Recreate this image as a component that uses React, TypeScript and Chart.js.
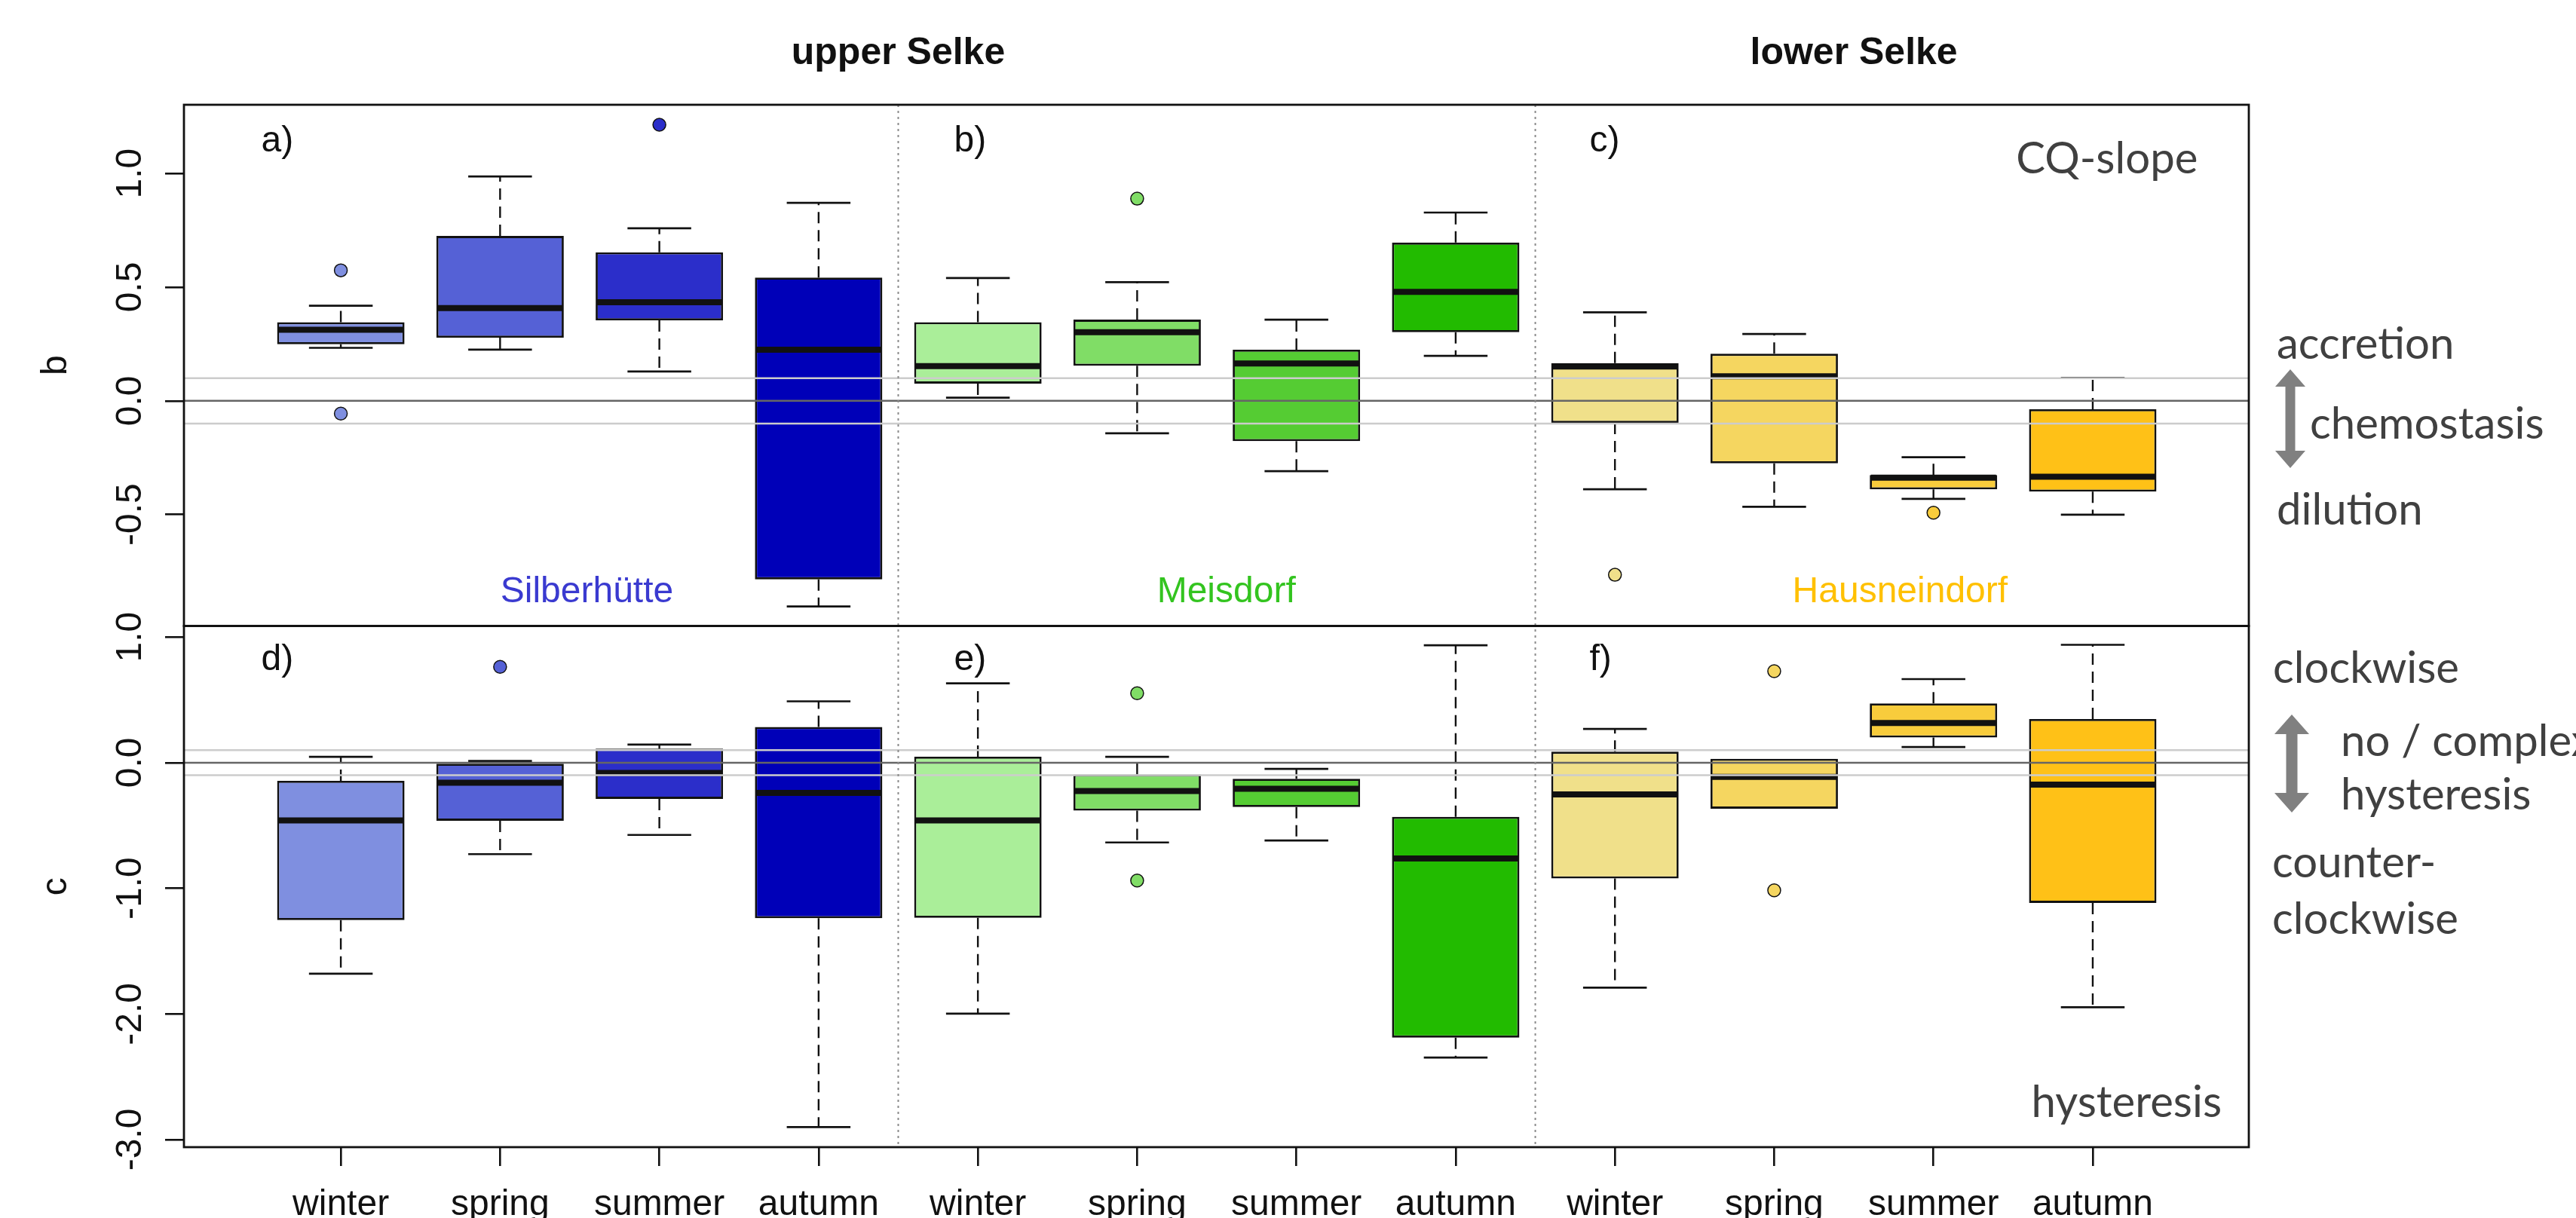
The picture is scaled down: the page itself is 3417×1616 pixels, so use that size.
import React, { useEffect, useRef } from "react";
import { Chart, registerables } from "chart.js";

Chart.register(...registerables);

// ---- categories ----
const SEASONS = ["winter", "spring", "summer", "autumn"];
const SITES = ["Silberhütte", "Meisdorf", "Hausneindorf"];
const POSITIONS = [1, 2, 3, 4, 5, 6, 7, 8, 9, 10, 11, 12];
const SEASON_LABELS = SITES.flatMap(() => SEASONS);

// ---- fill colours (one per box, site by site) ----
const BOX_COLORS = [
  "#7F8FE0", "#5561D6", "#2B2ECA", "#0000B8",
  "#AAEE99", "#80DD66", "#55CC33", "#22BB00",
  "#F0E08A", "#F5D660", "#F8CC3C", "#FFC117",
];
const SITE_COLORS = ["#3A3AD0", "#33C41F", "#FFC000"];

// ---- CQ-slope b: box statistics per site/season ----
const B_LOW = [0.233, 0.225, 0.129, -0.904, 0.014, -0.143, -0.309, 0.198, -0.389, -0.466, -0.431, -0.501];
const B_Q1 = [0.249, 0.278, 0.354, -0.785, 0.076, 0.154, -0.177, 0.302, -0.097, -0.275, -0.389, -0.399];
const B_MEDIAN = [0.313, 0.408, 0.434, 0.225, 0.153, 0.302, 0.164, 0.479, 0.151, 0.108, -0.338, -0.334];
const B_Q3 = [0.346, 0.725, 0.653, 0.542, 0.346, 0.357, 0.225, 0.696, 0.166, 0.207, -0.326, -0.037];
const B_HIGH = [0.418, 0.987, 0.759, 0.871, 0.540, 0.522, 0.357, 0.828, 0.389, 0.294, -0.248, 0.101];
const B_OUTLIERS = [[0.574, -0.056], [], [1.214], [], [], [0.889], [], [], [-0.765], [], [-0.492], []];

// ---- hysteresis index c: box statistics per site/season ----
const C_LOW = [-1.679, -0.728, -0.575, -2.9, -1.998, -0.635, -0.619, -2.347, -1.791, -0.366, 0.125, -1.947];
const C_Q1 = [-1.253, -0.462, -0.288, -1.238, -1.235, -0.382, -0.353, -2.188, -0.922, -0.366, 0.2, -1.116];
const C_MEDIAN = [-0.46, -0.16, -0.082, -0.241, -0.46, -0.225, -0.207, -0.763, -0.253, -0.113, 0.315, -0.175];
const C_Q3 = [-0.144, 0.0, 0.112, 0.284, 0.047, -0.094, -0.128, -0.431, 0.087, 0.031, 0.472, 0.347];
const C_HIGH = [0.047, 0.013, 0.144, 0.488, 0.631, 0.047, -0.05, 0.934, 0.268, 0.031, 0.665, 0.938];
const C_OUTLIERS = [[], [0.763], [], [], [], [0.553, -0.938], [], [], [], [0.728, -1.016], [], []];

// ---- axes ----
const B_TICKS = [-0.5, 0, 0.5, 1];
const C_TICKS = [-3, -2, -1, 0, 1];
const B_RANGE = [-0.99, 1.302];
const C_RANGE = [-3.06, 1.088];
const X_RANGE = [0.015, 12.98];
const BAND_LINES = [-0.1, 0.1];
const SEPARATORS = [4.5, 8.5];

// ---- annotations ----
const REACH_TITLES = ["upper Selke", "lower Selke"];
const REACH_CENTERS = [4.5, 10.5];
const LETTERS_TOP = ["a)", "b)", "c)"];
const LETTERS_BOTTOM = ["d)", "e)", "f)"];
const LETTER_X = [0.5, 4.85, 8.84];
const SITE_LABEL_X = [2.545, 6.56, 10.79];

const R_FONT = '"Liberation Sans", Arial, sans-serif';
const NOTE_FONT = 'Lato, "Open Sans", sans-serif';
const NOTE_COLOR = "#404040";
const INK = "#111111";

const outlierPoints = (sets: number[][]) =>
  sets.flatMap((vals, i) => vals.map((v) => ({ x: POSITIONS[i], y: v })));
const outlierColors = (sets: number[][]) =>
  sets.flatMap((vals, i) => vals.map(() => BOX_COLORS[i]));

function drawBoxParts(
  ctx: CanvasRenderingContext2D,
  chart: any,
  datasetIndex: number,
  yScale: any,
  low: number[],
  q1: number[],
  med: number[],
  q3: number[],
  high: number[]
) {
  const meta = chart.getDatasetMeta(datasetIndex);
  meta.data.forEach((el: any, i: number) => {
    const { x, width } = el.getProps(["x", "width"], true);
    const half = width / 2;
    const pLow = yScale.getPixelForValue(low[i]);
    const pQ1 = yScale.getPixelForValue(q1[i]);
    const pMed = yScale.getPixelForValue(med[i]);
    const pQ3 = yScale.getPixelForValue(q3[i]);
    const pHigh = yScale.getPixelForValue(high[i]);
    ctx.save();
    ctx.strokeStyle = INK;
    ctx.lineWidth = 2.4;
    ctx.setLineDash([15, 9]);
    ctx.beginPath();
    if (high[i] > q3[i]) {
      ctx.moveTo(x, pQ3);
      ctx.lineTo(x, pHigh);
    }
    if (low[i] < q1[i]) {
      ctx.moveTo(x, pQ1);
      ctx.lineTo(x, pLow);
    }
    ctx.stroke();
    ctx.setLineDash([]);
    ctx.lineWidth = 2.7;
    ctx.beginPath();
    if (high[i] > q3[i]) {
      ctx.moveTo(x - half / 2, pHigh);
      ctx.lineTo(x + half / 2, pHigh);
    }
    if (low[i] < q1[i]) {
      ctx.moveTo(x - half / 2, pLow);
      ctx.lineTo(x + half / 2, pLow);
    }
    ctx.stroke();
    ctx.lineWidth = 8;
    ctx.beginPath();
    ctx.moveTo(x - half + 1.5, pMed);
    ctx.lineTo(x + half - 1.5, pMed);
    ctx.stroke();
    ctx.restore();
  });
}

function drawDoubleArrow(
  ctx: CanvasRenderingContext2D,
  x: number,
  top: number,
  bottom: number,
  shaft: number,
  headW: number,
  headL: number
) {
  ctx.save();
  ctx.fillStyle = "#808080";
  ctx.beginPath();
  ctx.moveTo(x, top);
  ctx.lineTo(x + headW / 2, top + headL);
  ctx.lineTo(x + shaft / 2, top + headL);
  ctx.lineTo(x + shaft / 2, bottom - headL);
  ctx.lineTo(x + headW / 2, bottom - headL);
  ctx.lineTo(x, bottom);
  ctx.lineTo(x - headW / 2, bottom - headL);
  ctx.lineTo(x - shaft / 2, bottom - headL);
  ctx.lineTo(x - shaft / 2, top + headL);
  ctx.lineTo(x - headW / 2, top + headL);
  ctx.closePath();
  ctx.fill();
  ctx.restore();
}

const boxplotPlugin = {
  id: "boxplotParts",
  afterDatasetsDraw(chart: any) {
    const ctx: CanvasRenderingContext2D = chart.ctx;
    const area = chart.chartArea;
    const xs = chart.scales.x;
    const yT = chart.scales.yTop;
    const yB = chart.scales.yBot;

    drawBoxParts(ctx, chart, 0, yT, B_LOW, B_Q1, B_MEDIAN, B_Q3, B_HIGH);
    drawBoxParts(ctx, chart, 1, yB, C_LOW, C_Q1, C_MEDIAN, C_Q3, C_HIGH);

    ctx.save();
    for (const ys of [yT, yB]) {
      ctx.lineWidth = 2.5;
      ctx.strokeStyle = "#CCCCCC";
      for (const v of BAND_LINES) {
        const py = ys.getPixelForValue(v);
        ctx.beginPath();
        ctx.moveTo(area.left, py);
        ctx.lineTo(area.right, py);
        ctx.stroke();
      }
      ctx.strokeStyle = "#666666";
      const p0 = ys.getPixelForValue(0);
      ctx.beginPath();
      ctx.moveTo(area.left, p0);
      ctx.lineTo(area.right, p0);
      ctx.stroke();
    }
    ctx.strokeStyle = "#8A8A8A";
    ctx.lineWidth = 2;
    ctx.setLineDash([3, 5]);
    for (const v of SEPARATORS) {
      const px = xs.getPixelForValue(v);
      ctx.beginPath();
      ctx.moveTo(px, area.top);
      ctx.lineTo(px, area.bottom);
      ctx.stroke();
    }
    ctx.setLineDash([]);
    ctx.strokeStyle = INK;
    ctx.lineWidth = 2.8;
    for (const ys of [yT, yB]) {
      ctx.strokeRect(area.left, ys.top, area.right - area.left, ys.bottom - ys.top);
    }
    ctx.restore();
  },
  afterDraw(chart: any) {
    const ctx: CanvasRenderingContext2D = chart.ctx;
    const area = chart.chartArea;
    const xs = chart.scales.x;
    const yT = chart.scales.yTop;
    const yB = chart.scales.yBot;

    ctx.save();
    ctx.fillStyle = INK;
    ctx.font = `48px ${R_FONT}`;

    // y tick labels, parallel to the axis
    const tickSets: [any, number[]][] = [[yT, B_TICKS], [yB, C_TICKS]];
    for (const [ys, ticks] of tickSets) {
      for (const v of ticks) {
        ctx.save();
        ctx.translate(area.left - 57, ys.getPixelForValue(v));
        ctx.rotate(-Math.PI / 2);
        ctx.textAlign = "center";
        ctx.textBaseline = "alphabetic";
        ctx.fillText(v.toFixed(1), 0, 0);
        ctx.restore();
      }
    }
    // y axis titles
    const titles: [any, string][] = [[yT, "b"], [yB, "c"]];
    for (const [ys, t] of titles) {
      ctx.save();
      ctx.translate(area.left - 156, (ys.top + ys.bottom) / 2);
      ctx.rotate(-Math.PI / 2);
      ctx.textAlign = "center";
      ctx.fillText(t, 0, 0);
      ctx.restore();
    }
    // x tick labels
    ctx.textAlign = "center";
    ctx.textBaseline = "alphabetic";
    POSITIONS.forEach((p, i) => {
      ctx.fillText(SEASON_LABELS[i], xs.getPixelForValue(p), area.bottom + 90);
    });
    // reach titles
    ctx.font = `bold 50px ${R_FONT}`;
    REACH_TITLES.forEach((t, i) => {
      ctx.fillText(t, xs.getPixelForValue(REACH_CENTERS[i]), area.top - 54);
    });
    // panel letters
    ctx.font = `48px ${R_FONT}`;
    ctx.textAlign = "left";
    LETTERS_TOP.forEach((t, i) => {
      ctx.fillText(t, xs.getPixelForValue(LETTER_X[i]), yT.getPixelForValue(1.095));
    });
    LETTERS_BOTTOM.forEach((t, i) => {
      ctx.fillText(t, xs.getPixelForValue(LETTER_X[i]), yB.getPixelForValue(0.735));
    });
    // site names
    ctx.textAlign = "center";
    SITES.forEach((s, i) => {
      ctx.fillStyle = SITE_COLORS[i];
      ctx.fillText(s, xs.getPixelForValue(SITE_LABEL_X[i]), yT.getPixelForValue(-0.885));
    });

    // explanatory notes
    ctx.font = `100px ${NOTE_FONT}`;
    const noteSize = (100 * 247) / ctx.measureText("clockwise").width;
    ctx.font = `${noteSize.toFixed(1)}px ${NOTE_FONT}`;
    ctx.fillStyle = NOTE_COLOR;
    ctx.textAlign = "right";
    ctx.fillText("CQ-slope", xs.getPixelForValue(12.66), yT.getPixelForValue(1.0));
    ctx.fillText("hysteresis", xs.getPixelForValue(12.81), yB.getPixelForValue(-2.82));
    ctx.textAlign = "left";
    const r = area.right;
    ctx.fillText("accretion", r + 37, 476);
    ctx.fillText("chemostasis", r + 81, 582);
    ctx.fillText("dilution", r + 37, 696);
    ctx.fillText("clockwise", r + 32, 906);
    ctx.fillText("no / complex", r + 122, 1003);
    ctx.fillText("hysteresis", r + 122, 1074);
    ctx.fillText("counter-", r + 31, 1164);
    ctx.fillText("clockwise", r + 31, 1239);
    ctx.restore();

    drawDoubleArrow(ctx, r + 55, 490, 621, 13, 40, 23);
    drawDoubleArrow(ctx, r + 57, 948, 1078, 15, 46, 26);
  },
};

export default function App() {
  const canvasRef = useRef<HTMLCanvasElement | null>(null);

  useEffect(() => {
    const canvas = canvasRef.current;
    if (!canvas) return;
    const tickGrid = {
      drawOnChartArea: false,
      drawTicks: true,
      tickLength: 25,
      color: INK,
      lineWidth: 2.6,
      offset: false,
    };
    const chart = new Chart(canvas, {
      type: "bar",
      data: {
        datasets: [
          {
            type: "bar",
            label: "b",
            yAxisID: "yTop",
            data: POSITIONS.map((x, i) => ({ x, y: [B_Q1[i], B_Q3[i]] })) as any,
            backgroundColor: BOX_COLORS,
            borderColor: INK,
            borderWidth: 2.8,
            borderSkipped: false,
            grouped: false,
            barPercentage: 0.8,
            categoryPercentage: 1,
          },
          {
            type: "bar",
            label: "c",
            yAxisID: "yBot",
            data: POSITIONS.map((x, i) => ({ x, y: [C_Q1[i], C_Q3[i]] })) as any,
            backgroundColor: BOX_COLORS,
            borderColor: INK,
            borderWidth: 2.8,
            borderSkipped: false,
            grouped: false,
            barPercentage: 0.8,
            categoryPercentage: 1,
          },
          {
            type: "scatter",
            label: "b outliers",
            yAxisID: "yTop",
            data: outlierPoints(B_OUTLIERS) as any,
            pointBackgroundColor: outlierColors(B_OUTLIERS),
            pointBorderColor: INK,
            pointBorderWidth: 1.5,
            pointRadius: 8.5,
          },
          {
            type: "scatter",
            label: "c outliers",
            yAxisID: "yBot",
            data: outlierPoints(C_OUTLIERS) as any,
            pointBackgroundColor: outlierColors(C_OUTLIERS),
            pointBorderColor: INK,
            pointBorderWidth: 1.5,
            pointRadius: 8.5,
          },
        ] as any,
      },
      options: {
        responsive: false,
        animation: false,
        devicePixelRatio: 1,
        layout: { padding: { left: 0, top: 139, right: 434, bottom: 0 } },
        plugins: { legend: { display: false }, tooltip: { enabled: false } },
        scales: {
          x: {
            type: "linear",
            min: X_RANGE[0],
            max: X_RANGE[1],
            offset: false,
            afterBuildTicks: (s: any) => {
              s.ticks = POSITIONS.map((v) => ({ value: v }));
            },
            afterFit: (s: any) => {
              s.height = 94;
            },
            grid: tickGrid,
            border: { display: false },
            ticks: { display: false },
          },
          yBot: {
            type: "linear",
            position: "left",
            stack: "panels",
            stackWeight: 1,
            min: C_RANGE[0],
            max: C_RANGE[1],
            afterBuildTicks: (s: any) => {
              s.ticks = C_TICKS.map((v) => ({ value: v }));
            },
            afterFit: (s: any) => {
              s.width = 244;
            },
            grid: tickGrid,
            border: { display: false },
            ticks: { display: false },
          },
          yTop: {
            type: "linear",
            position: "left",
            stack: "panels",
            stackWeight: 1,
            min: B_RANGE[0],
            max: B_RANGE[1],
            afterBuildTicks: (s: any) => {
              s.ticks = B_TICKS.map((v) => ({ value: v }));
            },
            afterFit: (s: any) => {
              s.width = 244;
            },
            grid: tickGrid,
            border: { display: false },
            ticks: { display: false },
          },
        } as any,
      },
      plugins: [boxplotPlugin],
    });
    return () => chart.destroy();
  }, []);

  return (
    <div style={{ position: "absolute", left: 0, top: 0, width: 3417, height: 1616, background: "#ffffff" }}>
      <canvas ref={canvasRef} width={3417} height={1616} style={{ display: "block" }} />
    </div>
  );
}
